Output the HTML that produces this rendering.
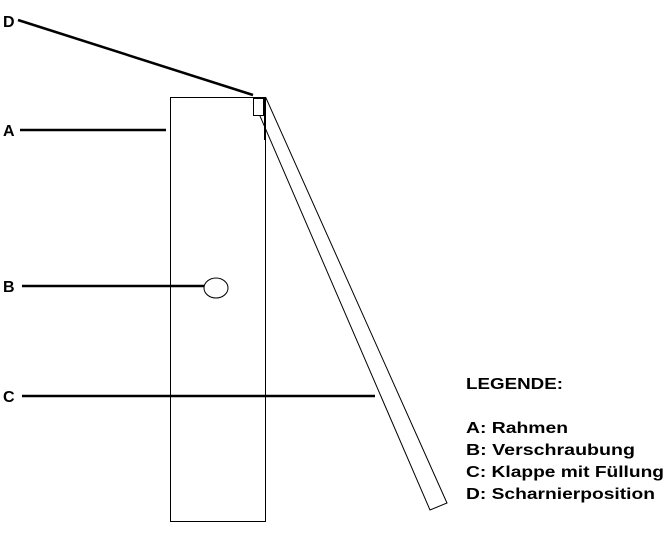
<!DOCTYPE html>
<html><head><style>body{margin:0;background:#fff}svg{display:block}text{font-family:"Liberation Sans",Arial,sans-serif;font-weight:700;font-size:16px;fill:#000}</style></head><body>
<svg width="671" height="542" viewBox="0 0 671 542">
<rect x="170.5" y="97.5" width="95" height="424" fill="none" stroke="#000" stroke-width="1"/>
<polygon points="260,116 266,98 447,503 430,510" fill="#fff" stroke="#000" stroke-width="1"/>
<rect x="253.5" y="98.5" width="10" height="17" fill="#fff" stroke="#000" stroke-width="1"/>
<line x1="265" y1="98" x2="265" y2="140" stroke="#000" stroke-width="2"/>
<ellipse cx="216" cy="288" rx="12" ry="10" fill="#fff" stroke="#000" stroke-width="1"/>
<g stroke="#000" stroke-width="2.5">
<line x1="18" y1="20" x2="253" y2="95"/>
<line x1="20" y1="130" x2="166" y2="130"/>
<line x1="22" y1="286" x2="204" y2="286"/>
<line x1="22" y1="396" x2="375" y2="396"/>
</g>
<g font-weight="bold">
<text x="3" y="27">D</text>
<text x="3" y="136">A</text>
<text x="3" y="292">B</text>
<text x="3" y="402">C</text>
<text x="466" y="389" textLength="97" lengthAdjust="spacingAndGlyphs">LEGENDE:</text>
<text x="466" y="433" textLength="102" lengthAdjust="spacingAndGlyphs">A: Rahmen</text>
<text x="466" y="455" textLength="169" lengthAdjust="spacingAndGlyphs">B: Verschraubung</text>
<text x="466" y="477" textLength="198" lengthAdjust="spacingAndGlyphs">C: Klappe mit Füllung</text>
<text x="466" y="499" textLength="189" lengthAdjust="spacingAndGlyphs">D: Scharnierposition</text>
</g>
</svg>
</body></html>
